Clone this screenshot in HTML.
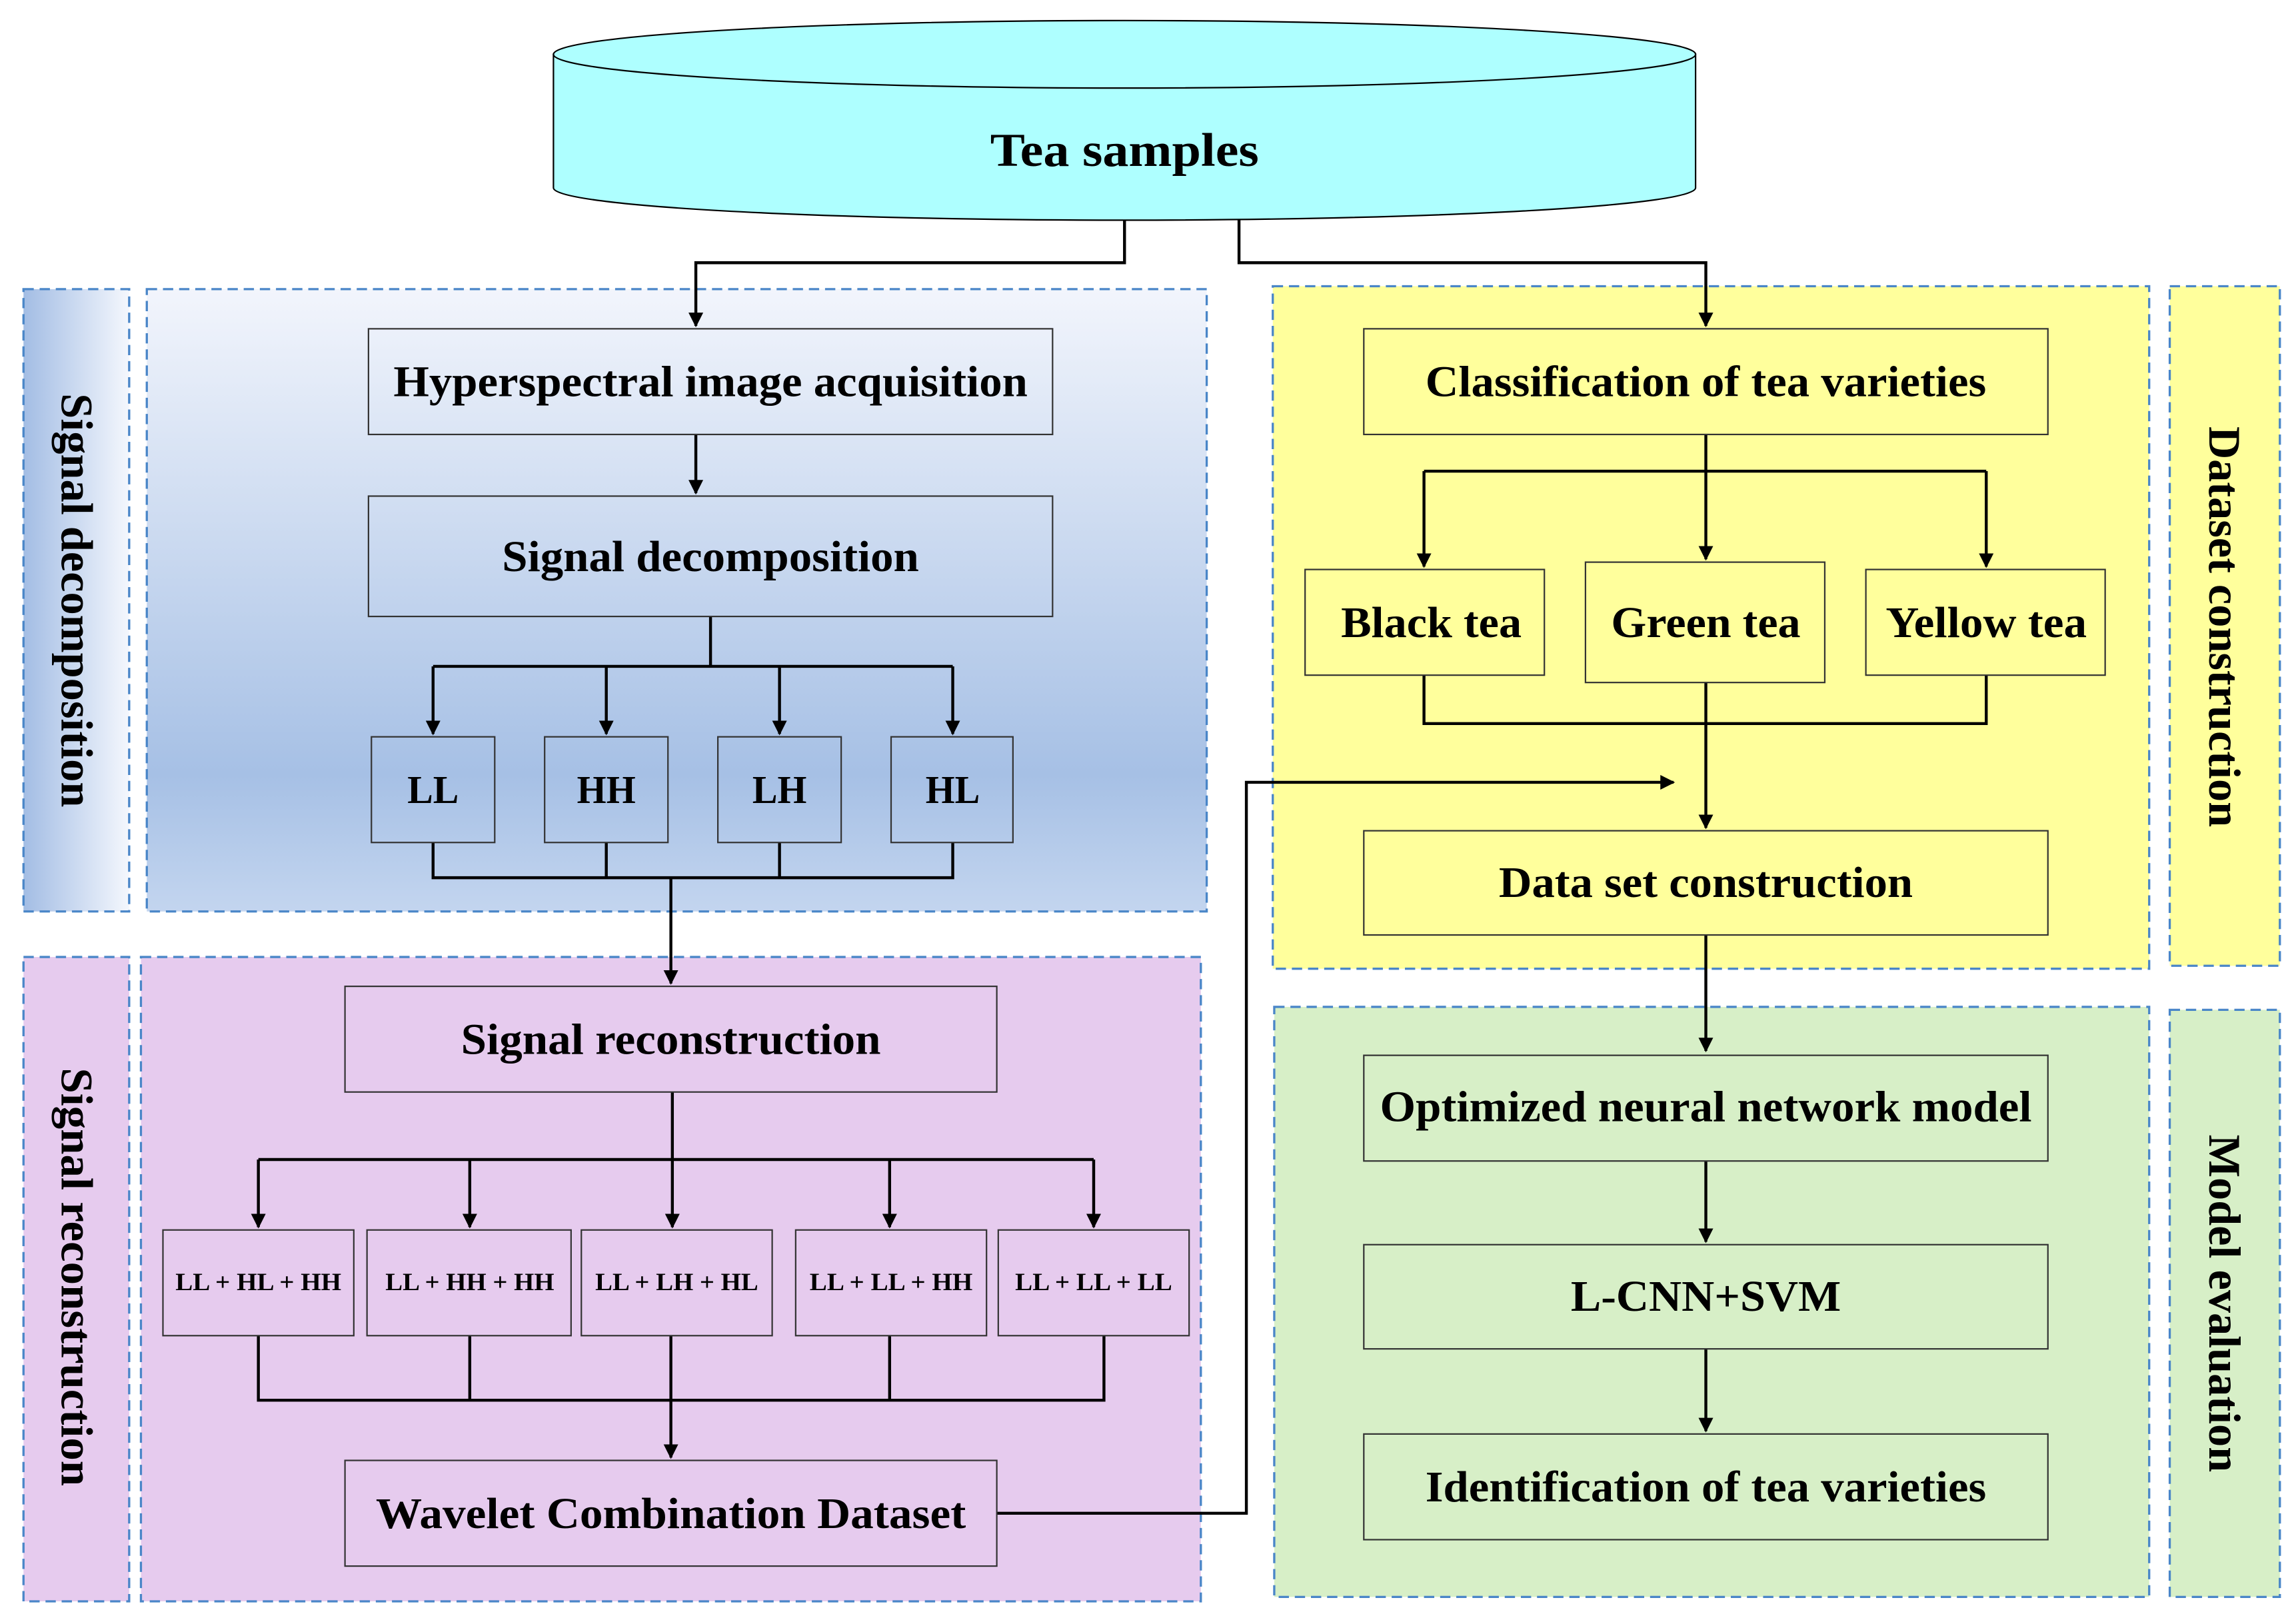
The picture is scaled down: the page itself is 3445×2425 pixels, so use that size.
<!DOCTYPE html>
<html><head><meta charset="utf-8"><style>html,body{margin:0;padding:0;background:#fff}svg{display:block}</style></head><body>
<svg width="3445" height="2425" viewBox="0 0 1564 1101" preserveAspectRatio="none" xmlns="http://www.w3.org/2000/svg" font-family="Liberation Serif, serif" font-weight="bold">
<defs>
<linearGradient id="bg" x1="0" y1="0" x2="0" y2="1"><stop offset="0" stop-color="#f2f5fc"/><stop offset="0.78" stop-color="#a6c0e5"/><stop offset="1" stop-color="#c3d5ef"/></linearGradient>
<linearGradient id="lg" x1="0" y1="0" x2="1" y2="0"><stop offset="0" stop-color="#a3bde4"/><stop offset="1" stop-color="#f4f7fd"/></linearGradient>
<marker id="a" markerWidth="10" markerHeight="10" refX="9" refY="5" orient="auto" markerUnits="userSpaceOnUse"><path d="M0,0 L10,5 L0,10z" fill="#000"/></marker>
</defs>
<g stroke="#4a86c8" stroke-width="1.5" stroke-dasharray="7,4">
<rect x="100" y="197" width="722" height="424" fill="url(#bg)"/>
<rect x="16" y="197" width="72" height="424" fill="url(#lg)"/>
<rect x="96" y="652" width="722" height="439" fill="#e6cbee"/>
<rect x="16" y="652" width="72" height="439" fill="#e6cbee"/>
<rect x="867" y="195" width="597" height="465" fill="#ffff9c"/>
<rect x="1478" y="195" width="75" height="463" fill="#ffff9c"/>
<rect x="868" y="686" width="596" height="402" fill="#d7efc7"/>
<rect x="1478" y="688" width="75" height="400" fill="#d7efc7"/>
</g>
<path d="M377,37 L377,128 A389,22 0 0 0 1155,128 L1155,37 Z" fill="#aeffff" stroke="#000" stroke-width="1"/>
<ellipse cx="766" cy="37" rx="389" ry="23" fill="#aeffff" stroke="#000" stroke-width="1"/>
<text x="766" y="113" font-size="32" text-anchor="middle" textLength="183" lengthAdjust="spacingAndGlyphs">Tea samples</text>
<g fill="none" stroke="#000" stroke-width="2">
<path d="M766,150 V179 H474 V222" marker-end="url(#a)"/>
<path d="M844,150 V179 H1162 V222" marker-end="url(#a)"/>
<path d="M474,296 V336" marker-end="url(#a)"/>
<path d="M484,420 V454 M295,454 H649"/>
<path d="M295,454 V500" marker-end="url(#a)"/>
<path d="M413,454 V500" marker-end="url(#a)"/>
<path d="M531,454 V500" marker-end="url(#a)"/>
<path d="M649,454 V500" marker-end="url(#a)"/>
<path d="M295,574 V598 H649 V574 M413,574 V598 M531,574 V598"/>
<path d="M457,598 V670" marker-end="url(#a)"/>
<path d="M458,744 V790 M176,790 H745"/>
<path d="M176,790 V836" marker-end="url(#a)"/>
<path d="M320,790 V836" marker-end="url(#a)"/>
<path d="M458,790 V836" marker-end="url(#a)"/>
<path d="M606,790 V836" marker-end="url(#a)"/>
<path d="M745,790 V836" marker-end="url(#a)"/>
<path d="M176,910 V954 H752 V910 M320,910 V954 M606,910 V954"/>
<path d="M457,910 V993" marker-end="url(#a)"/>
<path d="M679,1031 H849 V533 H1140" marker-end="url(#a)"/>
<path d="M1162,296 V381" marker-end="url(#a)"/>
<path d="M970,321 H1353"/>
<path d="M970,321 V386" marker-end="url(#a)"/>
<path d="M1353,321 V386" marker-end="url(#a)"/>
<path d="M970,460 V493 H1353 V460"/>
<path d="M1162,465 V564" marker-end="url(#a)"/>
<path d="M1162,637 V716" marker-end="url(#a)"/>
<path d="M1162,791 V846" marker-end="url(#a)"/>
<path d="M1162,919 V975" marker-end="url(#a)"/>
</g>
<g stroke="#333" stroke-width="1" fill="none">
<rect x="251" y="224" width="466" height="72"/>
<rect x="251" y="338" width="466" height="82"/>
<rect x="253" y="502" width="84" height="72"/>
<rect x="371" y="502" width="84" height="72"/>
<rect x="489" y="502" width="84" height="72"/>
<rect x="607" y="502" width="83" height="72"/>
<rect x="235" y="672" width="444" height="72"/>
<rect x="111" y="838" width="130" height="72"/>
<rect x="250" y="838" width="139" height="72"/>
<rect x="396" y="838" width="130" height="72"/>
<rect x="542" y="838" width="130" height="72"/>
<rect x="680" y="838" width="130" height="72"/>
<rect x="235" y="995" width="444" height="72"/>
<rect x="929" y="224" width="466" height="72"/>
<rect x="889" y="388" width="163" height="72"/>
<rect x="1080" y="383" width="163" height="82"/>
<rect x="1271" y="388" width="163" height="72"/>
<rect x="929" y="566" width="466" height="71"/>
<rect x="929" y="719" width="466" height="72"/>
<rect x="929" y="848" width="466" height="71"/>
<rect x="929" y="977" width="466" height="72"/>
</g>
<g text-anchor="middle" font-size="30" lengthAdjust="spacingAndGlyphs">
<text x="484" y="270" textLength="432" lengthAdjust="spacingAndGlyphs">Hyperspectral image acquisition</text>
<text x="484" y="389" textLength="284" lengthAdjust="spacingAndGlyphs">Signal decomposition</text>
<text x="295" y="547" font-size="27" textLength="35" lengthAdjust="spacingAndGlyphs">LL</text>
<text x="413" y="547" font-size="27" textLength="40" lengthAdjust="spacingAndGlyphs">HH</text>
<text x="531" y="547" font-size="27" textLength="37" lengthAdjust="spacingAndGlyphs">LH</text>
<text x="649" y="547" font-size="27" textLength="37" lengthAdjust="spacingAndGlyphs">HL</text>
<text x="457" y="718" textLength="286" lengthAdjust="spacingAndGlyphs">Signal reconstruction</text>
<g font-size="17"><text x="176" y="879" textLength="113" lengthAdjust="spacingAndGlyphs">LL + HL + HH</text><text x="320" y="879" textLength="115" lengthAdjust="spacingAndGlyphs">LL + HH + HH</text><text x="461" y="879" textLength="111" lengthAdjust="spacingAndGlyphs">LL + LH + HL</text><text x="607" y="879" textLength="111" lengthAdjust="spacingAndGlyphs">LL + LL + HH</text><text x="745" y="879" textLength="107" lengthAdjust="spacingAndGlyphs">LL + LL + LL</text></g>
<text x="457" y="1041" textLength="402" lengthAdjust="spacingAndGlyphs">Wavelet Combination Dataset</text>
<text x="1162" y="270" textLength="382" lengthAdjust="spacingAndGlyphs">Classification of tea varieties</text>
<text x="975" y="434" textLength="123" lengthAdjust="spacingAndGlyphs">Black tea</text>
<text x="1162" y="434" textLength="129" lengthAdjust="spacingAndGlyphs">Green tea</text>
<text x="1353" y="434" textLength="137" lengthAdjust="spacingAndGlyphs">Yellow tea</text>
<text x="1162" y="611" textLength="282" lengthAdjust="spacingAndGlyphs">Data set construction</text>
<text x="1162" y="764" textLength="444" lengthAdjust="spacingAndGlyphs">Optimized neural network model</text>
<text x="1162" y="893" textLength="184" lengthAdjust="spacingAndGlyphs">L-CNN+SVM</text>
<text x="1162" y="1023" textLength="382" lengthAdjust="spacingAndGlyphs">Identification of tea varieties</text>
</g>
<g font-size="31" text-anchor="middle">
<text transform="translate(42,409) rotate(90)" textLength="282" lengthAdjust="spacingAndGlyphs">Signal decomposition</text>
<text transform="translate(42,870) rotate(90)" textLength="285" lengthAdjust="spacingAndGlyphs">Signal reconstruction</text>
<text transform="translate(1505,427) rotate(90)" textLength="273" lengthAdjust="spacingAndGlyphs">Dataset construction</text>
<text transform="translate(1505,888) rotate(90)" textLength="230" lengthAdjust="spacingAndGlyphs">Model evaluation</text>
</g>
</svg>
</body></html>
